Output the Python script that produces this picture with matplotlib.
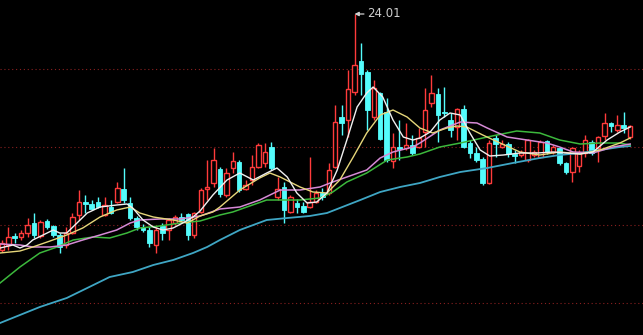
import numpy as np
import matplotlib
matplotlib.use("Agg")
import matplotlib.pyplot as plt

# daily candles, oldest first
opens = [19.29, 19.39, 19.57, 19.55, 19.63, 19.83, 19.57, 19.87, 19.77, 19.59,
         19.39, 19.63, 19.99, 20.25, 20.21, 20.25, 19.99, 20.15, 20.25, 20.51,
         20.23, 19.93, 19.75, 19.69, 19.39, 19.77, 19.69, 19.83, 19.95, 20.01,
         19.59, 20.05, 20.51, 20.63, 20.91, 20.39, 20.93, 21.05, 20.51, 20.69,
         20.95, 21.03, 21.35, 20.35, 20.55, 20.05, 20.23, 20.17, 20.15, 20.25,
         20.43, 20.43, 20.95, 21.95, 21.89, 22.45, 23.07, 22.85, 21.95, 22.43,
         22.05, 21.07, 21.35, 21.33, 21.39, 21.35, 21.65, 22.23, 22.41, 22.05,
         21.89, 21.75, 22.11, 21.43, 21.23, 21.11, 20.63, 21.53, 21.35, 21.41,
         21.21, 21.19, 21.09, 21.19, 21.15, 21.47, 21.25, 21.33, 21.03, 20.85,
         20.97, 21.23, 21.45, 21.33, 21.57, 21.83, 21.69, 21.79, 21.55]
highs = [19.49, 19.75, 19.63, 19.69, 19.93, 20.03, 19.89, 19.91, 19.79, 19.63,
         19.75, 20.03, 20.49, 20.39, 20.29, 20.35, 20.35, 20.29, 20.65, 20.93,
         20.35, 19.97, 19.81, 19.75, 19.75, 19.83, 19.93, 19.99, 20.03, 20.03,
         20.05, 20.53, 21.09, 21.33, 20.95, 20.93, 21.25, 21.09, 20.69, 21.19,
         21.43, 21.43, 21.45, 20.75, 20.65, 20.39, 20.31, 20.25, 21.15, 20.49,
         20.53, 21.03, 22.19, 22.19, 22.89, 24.01, 23.43, 22.89, 22.69, 22.45,
         22.33, 21.63, 21.89, 21.83, 21.59, 21.73, 22.53, 22.79, 22.53, 22.55,
         22.03, 22.13, 22.19, 21.49, 21.35, 21.15, 21.49, 21.59, 21.49, 21.45,
         21.29, 21.29, 21.51, 21.29, 21.49, 21.49, 21.39, 21.35, 21.05, 21.35,
         21.29, 21.59, 21.49, 21.57, 22.03, 21.85, 21.99, 22.05, 21.79]
lows = [19.25, 19.29, 19.43, 19.49, 19.55, 19.53, 19.53, 19.71, 19.55, 19.23,
        19.33, 19.61, 19.89, 20.03, 20.09, 20.13, 19.97, 20.01, 20.23, 20.23,
        19.89, 19.69, 19.65, 19.35, 19.23, 19.49, 19.49, 19.79, 19.85, 19.49,
        19.53, 20.03, 20.29, 20.55, 20.35, 20.35, 20.83, 20.45, 20.49, 20.59,
        20.93, 20.95, 20.89, 20.29, 19.83, 20.03, 20.03, 20.03, 20.13, 20.23,
        20.29, 20.39, 20.93, 21.59, 21.55, 22.39, 22.39, 21.69, 21.89, 21.49,
        21.05, 20.93, 21.09, 21.29, 21.19, 21.33, 21.35, 22.15, 21.45, 21.95,
        21.55, 21.49, 21.33, 21.13, 21.05, 20.59, 20.61, 21.15, 21.33, 21.15,
        21.03, 21.15, 21.05, 21.15, 21.13, 21.21, 21.21, 20.99, 20.81, 20.65,
        20.85, 21.15, 21.19, 21.05, 21.49, 21.65, 21.65, 21.63, 21.51]
closes = [19.43, 19.55, 19.53, 19.63, 19.79, 19.59, 19.85, 19.75, 19.59, 19.35,
          19.63, 19.95, 20.25, 20.21, 20.11, 20.15, 20.19, 20.03, 20.53, 20.29,
          19.93, 19.75, 19.69, 19.43, 19.69, 19.63, 19.89, 19.95, 19.89, 19.59,
          20.03, 20.49, 20.55, 21.09, 20.41, 20.83, 21.07, 20.49, 20.59, 20.95,
          21.39, 21.25, 20.93, 20.51, 20.09, 20.35, 20.15, 20.05, 20.25, 20.43,
          20.35, 20.89, 21.85, 21.83, 22.51, 22.99, 22.81, 22.09, 22.53, 21.51,
          21.09, 21.35, 21.31, 21.39, 21.23, 21.53, 22.09, 22.43, 21.99, 22.03,
          21.69, 22.11, 21.35, 21.23, 21.09, 20.63, 21.43, 21.41, 21.41, 21.21,
          21.17, 21.25, 21.49, 21.25, 21.45, 21.25, 21.35, 21.03, 20.85, 21.33,
          21.25, 21.49, 21.23, 21.55, 21.83, 21.77, 21.79, 21.73, 21.77]

# moving averages (day index, price)
ma5_day = [-0.3, 1.7, 2.8, 3.9, 4.8, 6.4, 8.0, 9.0, 10.1, 11.7, 13.3, 15.3, 17.9,
           19.5, 20.4, 22.0, 23.6, 25.1, 26.7, 28.2, 29.8, 30.9, 32.9, 35.1, 37.1,
           39.2, 41.3, 42.9, 44.5, 46.0, 47.6, 49.1, 50.7, 52.3, 53.8, 55.4, 56.9,
           57.9, 59.4, 61.0, 62.6, 64.1, 65.2, 66.8, 68.3, 69.9, 71.5, 73.0, 74.6,
           76.1, 78.2, 80.8, 83.5, 86.0, 88.1, 90.2, 92.2, 94.4, 96.4, 98.0]
ma5 = [19.33, 19.39, 19.33, 19.39, 19.49, 19.59, 19.69, 19.63, 19.63, 19.83,
       20.03, 20.15, 20.19, 20.21, 20.13, 19.89, 19.75, 19.69, 19.73, 19.83,
       19.95, 20.07, 20.39, 20.69, 20.83, 20.69, 20.83, 20.93, 20.75, 20.43,
       20.23, 20.25, 20.43, 20.89, 21.49, 22.15, 22.43, 22.55, 22.35, 21.89,
       21.55, 21.49, 21.53, 21.65, 21.89, 22.03, 21.99, 21.63, 21.29, 21.17,
       21.19, 21.23, 21.23, 21.25, 21.23, 21.21, 21.25, 21.49, 21.65, 21.75]

ma10_day = [-0.3, 2.8, 4.8, 7.5, 10.1, 12.6, 15.3, 17.9, 20.0, 21.5, 23.6, 26.7,
            28.9, 30.9, 32.9, 34.0, 37.1, 40.2, 41.8, 43.4, 46.5, 48.5, 50.7, 52.7,
            54.8, 56.9, 59.0, 61.0, 63.2, 65.2, 67.2, 69.4, 71.0, 72.5, 75.0, 77.7,
            80.8, 83.9, 87.0, 90.2, 93.3, 96.4, 98.0]
ma10 = [19.23, 19.27, 19.35, 19.47, 19.59, 19.73, 19.95, 20.09, 20.15, 20.03,
        19.95, 19.89, 19.83, 19.97, 20.05, 20.15, 20.49, 20.73, 20.83, 20.75,
        20.55, 20.45, 20.43, 20.69, 21.15, 21.63, 21.99, 22.09, 21.95, 21.73,
        21.63, 21.73, 21.77, 21.75, 21.59, 21.43, 21.25, 21.19, 21.25, 21.21,
        21.29, 21.43, 21.53]

ma20_day = [-0.3, 2.8, 4.8, 7.5, 10.1, 12.6, 15.3, 17.9, 20.0, 21.5, 24.6, 27.8,
            30.9, 34.0, 37.1, 40.2, 43.4, 46.5, 49.6, 51.6, 53.8, 56.9, 59.0, 61.0,
            64.1, 65.2, 68.3, 71.5, 74.1, 75.7, 78.8, 81.9, 85.0, 87.0, 89.1, 92.2,
            95.3, 98.0]
ma20 = [19.41, 19.39, 19.35, 19.35, 19.39, 19.49, 19.59, 19.69, 19.83, 19.89,
        19.91, 19.91, 19.97, 20.11, 20.15, 20.29, 20.49, 20.49, 20.55, 20.65,
        20.75, 20.89, 21.13, 21.25, 21.35, 21.43, 21.69, 21.85, 21.83, 21.73,
        21.55, 21.49, 21.43, 21.35, 21.25, 21.23, 21.35, 21.41]

ma60_day = [-0.3, 2.8, 5.9, 8.6, 11.1, 14.2, 16.8, 19.5, 21.5, 24.6, 27.8, 30.9,
            34.0, 36.0, 41.3, 46.5, 49.6, 51.6, 53.8, 56.9, 60.1, 63.2, 65.2, 68.3,
            71.5, 75.7, 80.3, 83.9, 87.0, 90.2, 93.3, 96.4, 98.0]
ma60 = [18.63, 18.95, 19.23, 19.35, 19.49, 19.55, 19.53, 19.63, 19.73, 19.77,
        19.83, 19.87, 19.99, 20.05, 20.29, 20.29, 20.33, 20.45, 20.65, 20.83,
        21.09, 21.15, 21.21, 21.35, 21.43, 21.55, 21.67, 21.63, 21.49, 21.41,
        21.43, 21.43, 21.39]

ma120_day = [-0.3, 2.8, 5.9, 10.1, 13.3, 16.8, 20.4, 23.6, 26.7, 29.8, 32.0, 34.0,
             37.1, 41.3, 44.5, 48.0, 50.7, 52.7, 55.9, 59.0, 62.1, 65.2, 68.3, 71.5,
             75.7, 79.7, 83.9, 87.0, 90.2, 93.3, 96.4, 98.0]
ma120 = [17.83, 17.99, 18.15, 18.33, 18.53, 18.75, 18.85, 18.99, 19.09, 19.23,
         19.35, 19.49, 19.69, 19.89, 19.93, 19.97, 20.03, 20.13, 20.29, 20.45,
         20.55, 20.63, 20.75, 20.85, 20.93, 21.03, 21.13, 21.19, 21.23, 21.29,
         21.35, 21.37]

grid_levels = [22.91, 21.35, 19.79, 18.23]
peak_label = "24.01"

UP = "#ff3b3b"
DOWN = "#54fcfc"

fig = plt.figure(figsize=(6.43, 3.35), dpi=100, facecolor="black")
ax = fig.add_axes([0, 0, 1, 1], facecolor="black")

for lvl in grid_levels:
    ax.axhline(lvl, color="#8a2020", lw=0.8, ls=(0, (1, 2.5)), zorder=0)

o = np.array(opens)
h = np.array(highs)
l = np.array(lows)
c = np.array(closes)
days = np.arange(len(o))
up = c >= o
col = np.where(up, UP, DOWN)

ax.vlines(days, l, h, colors=col, lw=1.0, zorder=2)
body_lo = np.minimum(o, c)
body_hi = np.maximum(o, c)
height = np.maximum(body_hi - body_lo, 0.02)
ax.bar(days[up], height[up], bottom=body_lo[up], width=0.68,
       facecolor="black", edgecolor=UP, linewidth=1.0, zorder=3)
ax.bar(days[~up], height[~up], bottom=body_lo[~up], width=0.72,
       facecolor=DOWN, edgecolor=DOWN, linewidth=0.6, zorder=3)

ax.plot(ma120_day, ma120, color="#3fa6c4", lw=1.3, zorder=4)
ax.plot(ma60_day, ma60, color="#3cb83c", lw=1.1, zorder=4)
ax.plot(ma20_day, ma20, color="#d68ad6", lw=1.1, zorder=4)
ax.plot(ma10_day, ma10, color="#e6d67a", lw=1.0, zorder=4)
ax.plot(ma5_day, ma5, color="#f0f0f0", lw=1.0, zorder=5)

peak = int(np.argmax(h))
ax.annotate(peak_label, xy=(peak, h[peak]), xytext=(peak + 1.9, h[peak]),
            color="#cfcfcf", fontsize=8.5, va="center", ha="left",
            arrowprops=dict(arrowstyle="-|>", color="#cfcfcf", lw=0.9,
                            mutation_scale=6, shrinkA=0, shrinkB=0),
            zorder=6)

ax.set_xlim(-0.31, 100.0)
ax.set_ylim(17.59, 24.29)
ax.axis("off")

fig.savefig("out.png", dpi=100, facecolor="black")
